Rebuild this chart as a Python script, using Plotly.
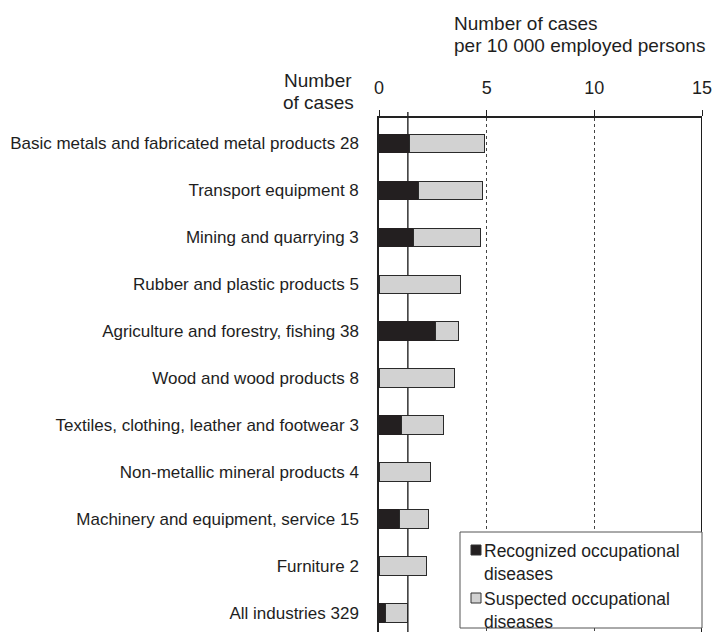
import plotly.graph_objects as go

industries = [
    "Basic metals and fabricated metal products 28",
    "Transport equipment 8",
    "Mining and quarrying 3",
    "Rubber and plastic products 5",
    "Agriculture and forestry, fishing 38",
    "Wood and wood products 8",
    "Textiles, clothing, leather and footwear 3",
    "Non-metallic mineral products 4",
    "Machinery and equipment, service 15",
    "Furniture 2",
    "All industries 329",
]
# cases per 10 000 employed persons (None = no recognized cases)
recognized = [1.42, 1.83, 1.62, None, 2.63, None, 1.04, None, 0.93, None, 0.32]
total = [4.91, 4.81, 4.70, 3.80, 3.69, 3.51, 3.00, 2.41, 2.32, 2.21, 1.34]
suspected = [round(t - (r or 0), 2) for t, r in zip(total, recognized)]
all_industries_rate = total[-1]

series_names = ["Recognized occupational<br>diseases",
                "Suspected occupational<br>diseases"]
series_colors = ["#231f20", "#d2d2d2"]

FONT = "Liberation Sans, Arial, sans-serif"
TXT = "#1e1e1e"

W, H = 715, 632
ML, MR, MT, MB = 379, 13, 118, 0
PW, PH = W - ML - MR, H - MT - MB
TICKLEN = 6


def px(x):
    return (x - ML) / PW


def py(y):
    return (H - MB - y) / PH


fig = go.Figure()
fig.add_trace(go.Bar(
    y=industries, x=recognized, orientation="h", name=series_names[0],
    marker=dict(color=series_colors[0], line=dict(color="#231f20", width=1)),
    width=0.4, showlegend=False,
))
fig.add_trace(go.Bar(
    y=industries, x=suspected, orientation="h", name=series_names[1],
    marker=dict(color=series_colors[1], line=dict(color="#2a2a2a", width=1)),
    width=0.4, showlegend=False,
))

# reference line at the all-industries rate, reaching up to the tick row
fig.add_shape(type="line", xref="x", yref="paper",
              x0=all_industries_rate, x1=all_industries_rate,
              y0=0, y1=1 + TICKLEN / PH,
              line=dict(color="#333333", width=1.5), layer="below")
# right border at 15
fig.add_shape(type="line", xref="x", yref="paper", x0=15, x1=15, y0=0, y1=1,
              line=dict(color="#1e1e1e", width=2))

# headings
fig.add_annotation(text="Number of cases", xref="paper", yref="paper",
                   x=0, xshift=73, y=1, yshift=95, xanchor="left",
                   yanchor="middle", showarrow=False,
                   font=dict(size=19, color=TXT, family=FONT))
fig.add_annotation(text="per 10 000 employed persons", xref="paper", yref="paper",
                   x=0, xshift=73, y=1, yshift=73, xanchor="left",
                   yanchor="middle", showarrow=False,
                   font=dict(size=19, color=TXT, family=FONT))
fig.add_annotation(text="Number", xref="paper", yref="paper",
                   x=0, xshift=-61, y=1, yshift=38, xanchor="center",
                   yanchor="middle", showarrow=False,
                   font=dict(size=19, color=TXT, family=FONT))
fig.add_annotation(text="of cases", xref="paper", yref="paper",
                   x=0, xshift=-61, y=1, yshift=16, xanchor="center",
                   yanchor="middle", showarrow=False,
                   font=dict(size=19, color=TXT, family=FONT))

# legend box
fig.add_shape(type="rect", xref="paper", yref="paper",
              x0=px(460), x1=1, y0=py(628), y1=py(532),
              fillcolor="white", line=dict(color="#555555", width=1))
for i, (name, color) in enumerate(zip(series_names, series_colors)):
    top = 545 + 48 * i
    fig.add_shape(type="rect", xref="paper", yref="paper",
                  x0=px(471), x1=px(481), y0=py(top + 10), y1=py(top),
                  fillcolor=color, line=dict(color="#333333", width=1))
    fig.add_annotation(text=name, xref="paper", yref="paper",
                       x=px(482), y=py(top + 17), xanchor="left",
                       yanchor="middle", align="left", showarrow=False,
                       font=dict(size=17.5, color=TXT, family=FONT))

fig.update_layout(
    barmode="stack",
    width=W, height=H,
    margin=dict(l=ML, r=MR, t=MT, b=MB),
    paper_bgcolor="white", plot_bgcolor="white",
    font=dict(family=FONT, color=TXT),
    showlegend=False,
    xaxis=dict(
        side="top", range=[0, 15], tickvals=[0, 5, 10, 15],
        ticks="outside", ticklen=TICKLEN, tickcolor="#222222", tickwidth=1,
        showline=True, linecolor="#222222", linewidth=1.5,
        showgrid=True, gridcolor="#444444", griddash="dot", gridwidth=1,
        zeroline=False, ticklabelstandoff=9,
        tickfont=dict(size=18, family=FONT, color=TXT),
        fixedrange=True,
    ),
    yaxis=dict(
        type="category", categoryorder="array", categoryarray=industries,
        range=[10.40, -0.543],
        showline=True, linecolor="#222222", linewidth=1.5,
        ticks="", showgrid=False, zeroline=False,
        ticklabelstandoff=15,
        tickfont=dict(size=17, family=FONT, color=TXT),
        fixedrange=True,
    ),
)

fig.write_html("out.html")
